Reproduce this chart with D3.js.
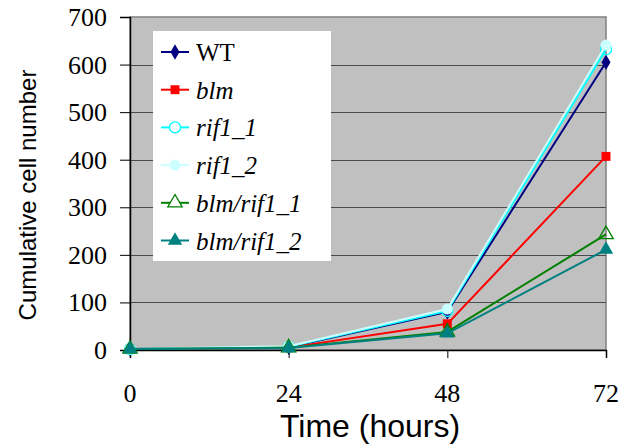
<!DOCTYPE html>
<html><head><meta charset="utf-8"><script src="https://cdn.jsdelivr.net/npm/d3@7"></script></head>
<body style="margin:0">
<script>
// Data
var hours = [0, 24, 48, 72];
var yTicks = [0, 100, 200, 300, 400, 500, 600, 700];
var seriesNames = ["WT", "blm", "rif1_1", "rif1_2", "blm/rif1_1", "blm/rif1_2"];
var wtValues = [2, 6, 80, 605];
var blmValues = [2, 5, 55, 407];
var rif11Values = [2, 7, 82, 632];
var rif12Values = [2, 8, 86, 641];
var blmRif11Values = [2, 5, 38, 243];
var blmRif12Values = [2, 4, 35, 211];

var svgWidth = 624;
var svgHeight = 448;

// plot area edges
var plot = { left: 130, top: 17, right: 606, bottom: 350 };

var svg = d3.select("body")
  .append("svg")
  .attr("width", svgWidth)
  .attr("height", svgHeight);

var xScale = d3.scaleLinear().domain([0, 72]).range([plot.left, plot.right]);
var yScale = d3.scaleLinear().domain([0, 700]).range([plot.bottom, plot.top]);

// grey background
svg.append("rect")
  .attr("x", plot.left)
  .attr("y", plot.top)
  .attr("width", plot.right - plot.left)
  .attr("height", plot.bottom - plot.top)
  .attr("fill", "#c0c0c0")
  .attr("stroke", "#808080")
  .attr("stroke-width", 1.5);

// gridlines
svg.append("g")
  .selectAll("line")
  .data(yTicks.filter(d => d > 0 && d < 700))
  .enter()
  .append("line")
  .attr("x1", plot.left)
  .attr("x2", plot.right)
  .attr("y1", d => Math.round(yScale(d)) + 0.5)
  .attr("y2", d => Math.round(yScale(d)) + 0.5)
  .attr("stroke", "#4a4a4a")
  .attr("stroke-width", 1);

// axes lines and ticks, labels drawn separately
var leftAxis = d3.axisLeft(yScale).tickValues(yTicks).tickSize(10).tickFormat("");
var bottomAxis = d3.axisBottom(xScale).tickValues(hours).tickSize(8).tickFormat("");

var yAxisG = svg.append("g")
  .attr("transform", `translate(${plot.left}, 0)`)
  .call(leftAxis);

var xAxisG = svg.append("g")
  .attr("transform", `translate(0, ${plot.bottom})`)
  .call(bottomAxis);

[yAxisG, xAxisG].forEach(function (g) {
  g.selectAll("text").remove();
  g.select(".domain").attr("stroke", "#000").attr("stroke-width", 1.5);
  g.selectAll(".tick line").attr("stroke", "#000").attr("stroke-width", 1);
});

// y labels: measured, then right-aligned by hand
var yLabels = svg.selectAll("text.ylab")
  .data(yTicks)
  .enter()
  .append("text")
  .attr("class", "ylab")
  .attr("y", d => yScale(d) + 9)
  .attr("text-anchor", "middle")
  .style("font-family", d => "'Times New Roman'")
  .style("font-size", "26px")
  .text(d => d);
yLabels.attr("x", function () { return plot.left - 23 - this.getComputedTextLength() / 2; });

svg.selectAll("text.xlab")
  .data(hours)
  .enter()
  .append("text")
  .attr("class", "xlab")
  .attr("x", d => xScale(d))
  .attr("y", plot.bottom + 52)
  .attr("text-anchor", "middle")
  .style("font-family", d => "'Liberation Serif'")
  .style("font-size", "26px")
  .text(d => d);

// axis titles
svg.append("text")
  .attr("transform", "rotate(-90)")
  .attr("x", -195)
  .attr("y", 36)
  .attr("text-anchor", "middle")
  .style("font-family", "'Liberation Sans'")
  .style("font-size", "24px")
  .text("Cumulative cell number");

svg.append("text")
  .attr("x", 370)
  .attr("y", 437)
  .attr("text-anchor", "middle")
  .style("font-family", "'Liberation Sans'")
  .style("font-size", "32px")
  .text("Time (hours)");

// series table
var series = [
  { name: seriesNames[0], values: wtValues, color: "#000080", marker: "diamond", fill: "#000080", italic: false },
  { name: seriesNames[1], values: blmValues, color: "#ff0000", marker: "square", fill: "#ff0000", italic: true },
  { name: seriesNames[2], values: rif11Values, color: "#00ffff", marker: "circle", fill: "none", italic: true },
  { name: seriesNames[3], values: rif12Values, color: "#ccffff", marker: "circle", fill: "#ccffff", italic: true },
  { name: seriesNames[4], values: blmRif11Values, color: "#008000", marker: "triangle", fill: "none", italic: true },
  { name: seriesNames[5], values: blmRif12Values, color: "#008080", marker: "triangle", fill: "#008080", italic: true }
];

var symbolType = {
  diamond: d3.symbolDiamond,
  square: d3.symbolSquare,
  circle: d3.symbolCircle,
  triangle: d3.symbolTriangle
};
var symbolSize = { diamond: 70, square: 80, circle: 95, triangle: 90 };

var line = d3.line()
  .x((d, i) => xScale(hours[i]))
  .y(d => yScale(d));

var seriesG = svg.append("g")
  .selectAll("g")
  .data(series)
  .enter()
  .append("g");

seriesG.append("path")
  .attr("d", d => line(d.values))
  .attr("fill", "none")
  .attr("stroke", d => d.color)
  .attr("stroke-width", 2);

seriesG.each(function (s) {
  d3.select(this).selectAll("path.pt")
    .data(s.values)
    .enter()
    .append("path")
    .attr("class", "pt")
    .attr("transform", (d, i) => `translate(${xScale(hours[i])}, ${yScale(d)})`)
    .attr("d", d3.symbol().type(symbolType[s.marker]).size(symbolSize[s.marker]))
    .attr("fill", s.fill === "none" ? "none" : s.fill)
    .attr("stroke", s.color)
    .attr("stroke-width", s.fill === "none" ? 1.3 : 0);
});

// legend
var legend = svg.append("g");
legend.append("rect")
  .attr("x", 153)
  .attr("y", 31)
  .attr("width", 178)
  .attr("height", 230)
  .attr("fill", "#fff");

var legendItems = legend.selectAll("g.item")
  .data(series)
  .enter()
  .append("g")
  .attr("class", "item")
  .attr("transform", (d, i) => `translate(0, ${52 + i * 37.7})`);

legendItems.append("line")
  .attr("x1", 161)
  .attr("x2", 189)
  .attr("stroke", d => d.color)
  .attr("stroke-width", 2);

legendItems.append("path")
  .attr("transform", "translate(175, 0)")
  .attr("d", d => d3.symbol().type(symbolType[d.marker]).size(symbolSize[d.marker])())
  .attr("fill", d => d.fill === "none" ? "#fff" : d.fill)
  .attr("stroke", d => d.color)
  .attr("stroke-width", d => d.fill === "none" ? 1.3 : 0);

legendItems.append("text")
  .attr("x", 196)
  .attr("y", 9)
  .style("font-family", "'Times New Roman'")
  .style("font-size", "25px")
  .style("font-style", d => d.italic ? "italic" : "normal")
  .text(d => d.name);
</script>
</body>
</html>
